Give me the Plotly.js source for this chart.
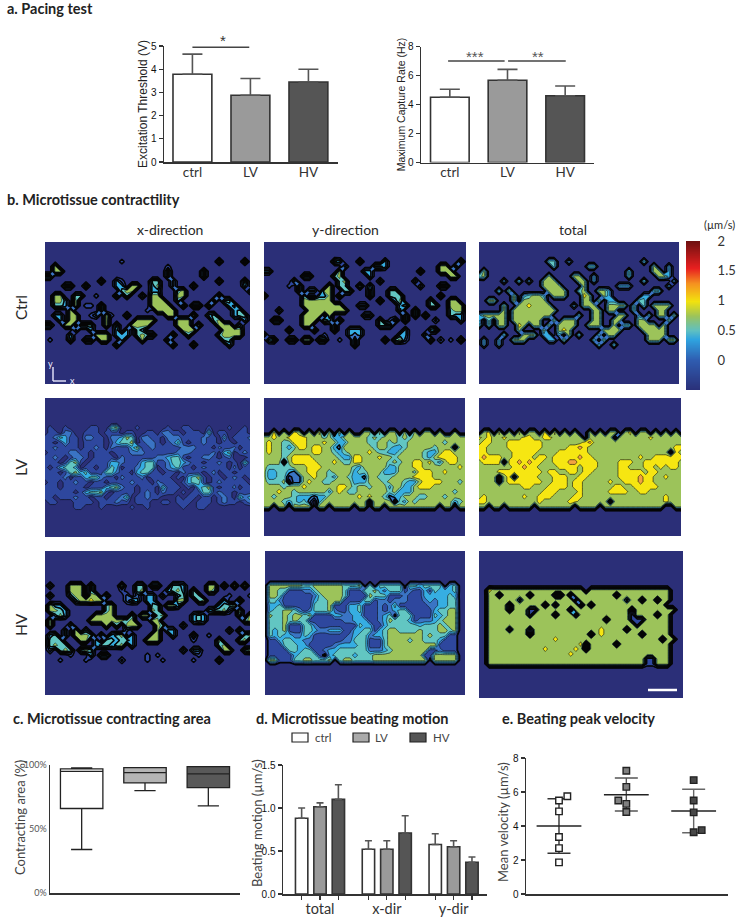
<!DOCTYPE html>
<html><head><meta charset="utf-8">
<script src="https://cdn.plot.ly/plotly-3.0.1.min.js"></script>
<style>html,body{margin:0;padding:0;background:#fff}#c{width:737px;height:917px}</style>
</head><body><div id="c"></div>
<script>
// ---------- bar / box / point data ----------
const groups = ['ctrl','LV','HV'];
const thresholdMean = [3.78,2.88,3.45];
const thresholdTop  = [4.65,3.60,4.00];
const captureMean = [4.50,5.67,4.60];
const captureTop  = [5.05,6.42,5.28];
const areaQ1 = [66,86,82.3], areaMedian = [95,94,93], areaQ3 = [97,98,98.7];
const areaLow = [34,80,68], areaHigh = [97.7,98,98.7];
const motionGroups = ['total','x-dir','y-dir'];
const motionCtrl = [0.88,0.52,0.575], motionCtrlTop = [1.00,0.62,0.70];
const motionLV   = [1.015,0.52,0.55], motionLVTop   = [1.06,0.62,0.62];
const motionHV   = [1.10,0.71,0.37],  motionHVTop   = [1.27,0.91,0.43];
const velocityCtrl = [5.75,5.5,4.86,3.35,2.7,1.86];
const velocityLV   = [7.25,6.3,5.5,5.3,4.82];
const velocityHV   = [6.7,5.5,4.8,3.76,3.63];
const velocityMean = [4.0,5.84,4.88];
const velocitySdTop = [5.6,6.82,6.16];
const velocitySdLow = [2.4,4.88,3.6];
const colourbarValues = [-0.5,-0.25,0,0.15,0.3,0.4,0.5,0.65,0.8,0.95,1.05,1.2,1.35,1.5,1.65,1.8,2];

// ---------- contour maps, one character per grid node ----------
const ctrlX = [
"",
"...............1..................4....4.",
"..5.....................1................",
"..55....................4......4.........",
"44......................4......4.........",
"...........4..31.....44..3........4....4.",
"....44..4.....33.55..35..3...4.........3.",
"...............455...33...45............3",
"..55..44..1...4.4..3.55...55......4......",
"..553.5..............555..4......4.44....",
"..443.5.11.4.........5555..4.44.4...34...",
".....5.....4........1.5555...........34..",
"..33.55..13.51..4.......55...5..34...344.",
"...3.55.....5.....5555....555....45....3.",
"44..55.444..5.4..5555.....555.5...555.3..",
"......3..3....3.3.43.......555.....5555..",
".....3....555.333.4544...4..4.....45555..",
".1...4..44.55..3...5....4..........44....",
"..............4..........4...4......3...."];
const ctrlY = [
"",
"..............43...4....3..............4.",
"................3.....443..........55.4..",
"33.............5....33.........4...555...",
"........44....45.....3...............55..",
"......3........45......3......3..........",
".....1.4.....5.44..5.3.........3...44....",
".......4.33.55..44...4...44..............",
"4.......4..335.4.....4...444.......4.....",
"........555555.........4..35.....4...55..",
"........55555555...33......35....44..555.",
"...3.....55555555..........4..4......455.",
"........5555.5......33......4.4.4....433.",
"..44....555.53.4.......4.14.4.....2....3.",
"........55....4........444...............",
".....4....4...4..333........3....34......",
"3...........1....323.......33...3........",
".34..44.55.44..1..4.....4.452....4.2.1.5.",
"..................4......................"];
const ctrlTotal = [
"",
"..............44..3..............4.......",
"...............4......44...........5..3..",
".5............................4....55.3..",
"45............5....55..3......4.....553..",
".....3..4.3..555....55.3.........4.....3.",
".............5555....5......333.......3..",
"....4.5.......5555..45..553........44....",
".......5.34553.555...65..53......33......",
"..55...5.55555.......55.5.33....44.......",
".....5..5565555....3.555..5555.4.4.5555..",
".....5.555555555.......55.55...4....55...",
"355555.55555555.....4..55...55..3.4.55.5.",
"3.4.55.555555..5.555...55..55...55....5..",
"4.4.55..65.55.5.5555..555..5.44.5555.5...",
"........5....5..565......5555....55555...",
".....4...555.33.3.5.4...4.55......5555...",
".3..3..555....33.5.....4.5........555.55.",
".3..3...................4..4............."];
const lvX = [
"",
"",
".1..1....11..45...1.....1..11...1...1..1.",
".11.22..111.111.11..11.2211.111.4.11..11.",
"1124311.2211.22354.2211.2221111211.3.1112",
"11.1311.1111.13445.1221.1241.11211.11.111",
"1121111.1121.21113511211111222111.2112.11",
".11112211.111.11122211111122211112.34.121",
"1121.1221.1111.2111111223441.11221.12...1",
"111.1451.1111332111344112443211.1121.1.41",
"1.13443.11.1143.112344.123411.121111.2.11",
"111.1453411144211.34411.11.2111.12.11.111",
"11112.11344211.21112.1111.1.3451.11.121.1",
".11.11211.11.11112111.2111.13441.1211111.",
"111.1111.111345211.111.4111.1.3451.112.11",
"111111.134451.1111.121.211.1.11441211.111",
"11.111211.11.1124.11211...1.11.11.121.423",
".11...1111.111211.111..11.111.111.1211.12",
"......11...1.....1..1......1..11........."];
const lvY = [
"..6.5.65.5.6.5.5.5..55.5.55.5.5.55.5..5..",
"55655666655545335555545455545455555555555",
"56554466655565533555544554544555555545555",
"56554346656655325555554554334555554555.55",
"56554455556655434555565443345555433566555",
"55554566665555543366555655455555435666655",
"5555.566666555654466555554545566564356655",
"54444455566655555543555553355566555555565",
"53344325566554555534455533355546665565555",
"53344122556554355433255444555566665555555",
"54445.22565544555533355545554335666655545",
"55554555655555566545545553553356665555555",
"55565545555553565445555554533355555555455",
"55455543332335555556565542335554455545555",
"5555434342.3555555555.5555.43545555555345",
"55.55.5555.55.5555.55.55.5555555555.55.55"];
const lvTotal = [
".56.6.5.6.55.6.6.5.5..5.5.55.56.55.5.5.5.",
"656556555665566555555.55555.5555556555555",
"56655566666665555555567555555555555555555",
"66555566666665555566765555555555555555566",
"66555556666655556666665555555555555555.65",
"67666556666566566666766555555555655666666",
"56666.66767665566677666655556665566666665",
"55555556676655556666566655556655566565665",
"55556666666665665566566555556666656655555",
"5555.56.66665556665566555555666676655655",
"5555.566666665566656655555655666766555555",
"55555555566555666656655555566556666655555",
"55555555555556665555655555666655665555555",
"56555555565566655556655555555555555556555",
"66555555555565555566555555.55555555556555",
"55.55.55555.5555555.5555.555555555555..55"];
const hvX = [
"",
"",
"",
".3...555.4.....5..44.44..443....55.4.5.5.",
".....555.4.....1..45....3453.4..54.......",
".3...355.55.4...2.2.33.3..34.44.....1...1",
"......355655....243.33....55..45...3..5..",
".533........45.......44.553.......3445...",
".5543.......45.......54.........34452.5..",
"..353.....5555...4.55.45.....343......4.5",
".5.......555555545...55......343.......45",
".5...3......5.4.555...54...3.............",
"....3.5.3.......2.....5.33..........3.4..",
".34.3.5554.3.345.3...55..3...4..1......45",
".444...55.3.443443..555......1....5...45.",
".4544.....344345.3................45.....",
".2.454.454.................3.33....55..45",
".....1...3.44.......1.1.......1..........",
"...1....1......2....1..1.....1....4......"];
const hvY = [
".5555555445555554445.4.44444.4434444.34..",
".55441112245555541114453244412113143334..",
".55411111124555541111544411121113333343..",
".44211111134455511114412212221112323344..",
".33411111144451113341112124111111223344..",
".34455421244452113341112123441111134455..",
".5445455451111332233111234.444111143455..",
".44454544111111122333112354443122234555..",
".44451114421111111143311344444434445455..",
".43451114432233311334413455444454445545..",
".43433224311111112344233455555554544411..",
".11344332211111122444111455554554443111..",
".11144433111112333344111455555555551111..",
".11114434411233444444222345555555112111..",
".11111344441.34444344455555555551155555..",
".5511144554445.455444455555555555.55555.."];
const hvTotal = [
"..6555555555555555555.5555555555555555...",
"..55.55555.5555..5.55555555.5555555555...",
"..55555525555555555.555555555255.55.55...",
"..5555.555555.515555.5.55555555555555....",
"..5555.55511555555.55555555555.55555555...",
"..5555555515555.5551555555555515555.55...",
"..55555555555555555555555.555511155555...",
"..555555555555555555555555555551555555...",
"..555515551555555555555565555.55555555...",
"..55555555.55555555555.565555555.55555...",
"..5555555555555655555555555555555555.55...",
"..5555555555555555556.55555.5555555555...",
"..5555555555565555565.5555555555555555...",
"..555555555555555565555555555555555555...",
"..555555555555555555555555555555511555...",
"..555555555555555555555555555555511555..."];

// map from grid characters to velocity levels
const levelOf = {'.':-0.4,'1':-0.12,'2':0.12,'3':0.37,'4':0.62,'5':0.87,'6':1.12,'7':1.37};
const bandColours = ['#2b2f78','#2e479e','#3a74c4','#36aee2','#62c6c2','#9cc35a','#f6e612','#f2a341','#e8352b'];
const barLine = '#333', fills = ['#ffffff','#9a9a9a','#555555'];

const W=737,H=917;
const dom=(l,r,t,b)=>({x:[l/W,r/W],y:[1-b/H,1-t/H]});
const layout={width:W,height:H,margin:{l:0,r:0,t:0,b:0},paper_bgcolor:'#fff',plot_bgcolor:'rgba(0,0,0,0)',
  showlegend:false,barmode:'overlay',shapes:[],annotations:[],font:{family:'Liberation Sans',color:'#222'}};
const data=[];
const tickF={family:'Liberation Sans',size:10,color:'#111'};
const catF={family:'Lato',size:13.5,color:'#333'};

function axes(n,box,xo,yo){
  const d=dom(...box);
  const base={showgrid:false,zeroline:false,fixedrange:true};
  layout['xaxis'+n]=Object.assign({},base,{domain:d.x,anchor:'y'+n},xo);
  layout['yaxis'+n]=Object.assign({},base,{domain:d.y,anchor:'x'+n},yo);
}
function cartesian(n,box,xRange,yRange,yTicks,yTitle,titleStandoff,xTickVals,xTickText,yFont,titleSize,titleFont){
  axes(n,box,{range:xRange,showline:true,linecolor:'#333',linewidth:1.5,ticks:'outside',ticklen:4,tickwidth:1.2,tickcolor:'#333',
      tickmode:'array',tickvals:xTickVals,ticktext:xTickText,tickfont:catF},
    {range:yRange,showline:true,linecolor:'#333',linewidth:1.5,ticks:'outside',ticklen:4,tickwidth:1.2,tickcolor:'#333',
      tickmode:'array',tickvals:yTicks.vals,ticktext:yTicks.text,tickfont:yFont||tickF,
      title:yTitle?{text:yTitle,standoff:titleStandoff,font:titleFont||{family:'Liberation Sans',size:titleSize||11,color:'#222'}}:undefined});
}
function text(x,y,s,size,opt){
  layout.annotations.push(Object.assign({xref:'paper',yref:'paper',x:x/W,y:1-y/H,text:s,showarrow:false,
    font:{family:'Lato',size:size,color:'#2a2a2a'},xanchor:'center',yanchor:'middle'},opt||{}));
}
function line(x0,y0,x1,y1,col,w){
  layout.shapes.push({type:'line',xref:'paper',yref:'paper',x0:x0/W,x1:x1/W,y0:1-y0/H,y1:1-y1/H,line:{color:col,width:w}});
}
function bar(n,x,y,top,fill,width,capW){
  data.push({type:'bar',xaxis:'x'+n,yaxis:'y'+n,x:x,y:y,width:width,marker:{color:fill,line:{color:barLine,width:1.6}},
    error_y:{type:'data',symmetric:false,array:top.map((t,i)=>t-y[i]),arrayminus:y.map(()=>0),color:'#555',thickness:1.6,width:capW},hoverinfo:'skip'});
}

// ---------- a ----------
const idx=[0,1,2];
cartesian(1,[164,338,46,162],[-0.49,2.51],[0,5],{vals:[0,1,2,3,4,5],text:['0','1','2','3','4','5']},'Excitation Threshold (V)',0,idx,groups,null,12);
layout.xaxis1.ticks='';layout.xaxis1.ticklabelstandoff=-3;
idx.forEach(i=>bar(1,[i],[thresholdMean[i]],[thresholdTop[i]],fills[i],0.67,10));
layout.shapes.push({type:'line',xref:'x1',yref:'y1',x0:0,x1:0.98,y0:4.95,y1:4.95,line:{color:'#444',width:1.5}});
layout.annotations.push({xref:'x1',yref:'y1',x:0.52,y:5,yshift:6,text:'*',showarrow:false,font:{family:'Liberation Sans',size:15,color:'#333'}});
cartesian(2,[421,594,46.5,162.5],[-0.5,2.5],[0,8],{vals:[0,2,4,6,8],text:['0','2','4','6','8']},'Maximum Capture Rate (Hz)',0,idx,groups,null,10.5);
layout.xaxis2.ticks='';layout.xaxis2.ticklabelstandoff=-3;
idx.forEach(i=>bar(2,[i],[captureMean[i]],[captureTop[i]],fills[i],0.67,10));
layout.shapes.push({type:'line',xref:'x2',yref:'y2',x0:-0.03,x1:0.95,y0:7,y1:7,line:{color:'#444',width:1.5}});
layout.shapes.push({type:'line',xref:'x2',yref:'y2',x0:1.01,x1:2.01,y0:7,y1:7,line:{color:'#444',width:1.5}});
layout.annotations.push({xref:'x2',yref:'y2',x:0.43,y:7.28,text:'***',showarrow:false,font:{family:'Liberation Sans',size:15,color:'#555'}});
layout.annotations.push({xref:'x2',yref:'y2',x:1.53,y:7.28,text:'**',showarrow:false,font:{family:'Liberation Sans',size:15,color:'#555'}});

// ---------- c ----------
cartesian(3,[50,240,765,893],[-0.5,2.5],[0,100],{vals:[0,50,100],text:['0%','50%','100%']},null,1,[],[],
  {family:'Lato',size:9,color:'#555'});
layout.xaxis3.ticks='';layout.yaxis3.ticks='';
text(20,818,'Contracting area (%)',13,{textangle:-90,font:{family:'Lato',size:13,color:'#444'}});
const boxFills=['#ffffff','#b4b4b4','#595959'];
idx.forEach(i=>data.push({type:'box',xaxis:'x3',yaxis:'y3',x:[i],q1:[areaQ1[i]],median:[areaMedian[i]],q3:[areaQ3[i]],
  lowerfence:[areaLow[i]],upperfence:[areaHigh[i]],width:0.67,whiskerwidth:0.5,boxpoints:false,fillcolor:boxFills[i],
  line:{color:'#222',width:1.3},hoverinfo:'skip'}));

// ---------- d ----------
const off=0.275,motionTicks=[],motionText=[];
[0,1,2].forEach(i=>{motionTicks.push(i-off,i,i+off);motionText.push('',motionGroups[i],'');});
cartesian(4,[283,487,765,894],[-0.554,2.5],[0,1.5],{vals:[0,0.5,1,1.5],text:['0.0','0.5','1.0','1.5']},null,1,motionTicks,motionText);
layout.xaxis4.tickfont={family:'Lato',size:14.5,color:'#333'};layout.xaxis4.ticklabelstandoff=-3;
text(257,823,'Beating motion (µm/s)',13,{textangle:-90,font:{family:'Lato',size:13,color:'#444'}});
const pos=d=>[0,1,2].map(i=>i+d);
bar(4,pos(-off),motionCtrl,motionCtrlTop,fills[0],0.185,3.5);
bar(4,pos(0),motionLV,motionLVTop,fills[1],0.185,3.5);
bar(4,pos(off),motionHV,motionHVTop,fills[2],0.185,3.5);

// ---------- e ----------
cartesian(5,[526,728,758,894],[-0.49,2.51],[0,8],{vals:[0,2,4,6,8],text:['0','2','4','6','8']},null,2,[],[]);
layout.xaxis5.ticks='';
text(503,822,'Mean velocity (µm/s)',13,{textangle:-90,font:{family:'Lato',size:13,color:'#444'}});
const velX=[[0.124,0,0,0,0,0],[0,0,-0.119,0,0],[0,0,0,0.119,0]];
const velY=[velocityCtrl,velocityLV,velocityHV];
const markerFills=['#ffffff','#808080','#484848'];
const sdCols=['#333','#555','#666'];
idx.forEach(i=>{
  data.push({type:'scatter',mode:'markers',xaxis:'x5',yaxis:'y5',x:[i],y:[velocityMean[i]],hoverinfo:'skip',
    marker:{symbol:'line-ew',size:32,line:{color:'#222',width:1.5},color:'#222'},
    error_y:{type:'data',symmetric:false,array:[velocitySdTop[i]-velocityMean[i]],arrayminus:[velocityMean[i]-velocitySdLow[i]],color:sdCols[i],thickness:1.4,width:11.5}});
  data.push({type:'scatter',mode:'markers',xaxis:'x5',yaxis:'y5',x:velX[i].map(d=>i+d),y:velY[i],hoverinfo:'skip',
    marker:{symbol:'square',size:6.5,color:markerFills[i],line:{color:'#222',width:1.4}}});
});

// ---------- b contour maps ----------
// panel: axis number, rows, first row, pixel box, top level of the heavy outline, outline width
const panels=[
 [6,ctrlX,3,[45,250,242,384],0.5,1.5],[7,ctrlY,3,[264,466,242,384],0.5,1.5],[8,ctrlTotal,3,[479,679,242,384],0,1.3],
 [9,lvX,4,[45,250,398,537],null,0],[10,lvY,7,[264,465,398,536],0.25,1.4],[11,lvTotal,7,[479,681,398,536],0.25,1.4],
 [12,hvX,4,[45,250,551,695],0.5,1.5],[13,hvY,7,[265,465,551,695],-0.25,1.8],[14,hvTotal,8,[479,683,551,698],0.5,1.4]];
const scale=bandColours.map((c,i)=>[i/(bandColours.length-1),c]);
panels.forEach(([n,rows,top,box,edgeTop,edgeW])=>{
  const nRows=Math.round((box[3]-box[2])/4.9)+1, z=[];
  for(let r=0;r<nRows;r++){
    const s=rows[r-top]||'', row=[];
    for(let c=0;c<41;c++){const ch=c<s.length?s[c]:(s.length?s[s.length-1]:'.');row.push(levelOf[ch]);}
    z.push(row);
  }
  axes(n,box,{range:[0,40],visible:false},{range:[nRows-1,0],visible:false});
  data.push({type:'contour',xaxis:'x'+n,yaxis:'y'+n,z:z,autocontour:false,showscale:false,hoverinfo:'skip',
    contours:{start:-0.25,end:1.5,size:0.25,coloring:'fill'},colorscale:scale,
    line:{color:'#0a0a0a',width:0.6,smoothing:0}});
  if(edgeTop!==null) data.push({type:'contour',xaxis:'x'+n,yaxis:'y'+n,z:z,autocontour:false,showscale:false,hoverinfo:'skip',
    contours:{start:-0.25,end:edgeTop,size:0.25,coloring:'none'},line:{color:'#050505',width:edgeW,smoothing:0}});
});

// colour bar
axes(15,[686,700,241,390],{range:[0,1],visible:false},{range:[-0.5,2],side:'right',tickmode:'array',tickvals:[0,0.5,1,1.5,2],ticktext:['0','0.5','1','1.5','2'],
  ticks:'outside',ticklen:14,tickcolor:'rgba(0,0,0,0)',showline:false,tickfont:{family:'Lato',size:13,color:'#333'}});
data.push({type:'heatmap',xaxis:'x15',yaxis:'y15',x:[0,1],y:colourbarValues,z:colourbarValues.map(v=>[v,v]),zmin:-0.5,zmax:2,zsmooth:'best',showscale:false,hoverinfo:'skip',
  colorscale:[[0,'#2a2f78'],[0.2,'#2f5cb0'],[0.34,'#2fa4e0'],[0.4,'#60c0c0'],[0.5,'#9cc35a'],[0.6,'#f2e20e'],[0.72,'#f59020'],[0.82,'#e82020'],[1,'#701010']]});

// ---------- text ----------
const hd={xanchor:'left',font:{family:'Lato',size:14.5,color:'#222'}};
text(5,9,'<b>a. Pacing test</b>',14.5,hd);
text(5,200,'<b>b. Microtissue contractility</b>',14.5,hd);
text(11,718,'<b>c. Microtissue contracting area</b>',14.5,hd);
text(254,718,'<b>d. Microtissue beating motion</b>',14.5,hd);
text(500,718,'<b>e. Beating peak velocity</b>',14.5,hd);
text(170,229,'x-direction',14);text(345,229,'y-direction',14);text(573,229,'total',14);
text(21,308,'Ctrl',15.5,{textangle:-90});text(21,467,'LV',15.5,{textangle:-90});text(21,625,'HV',15.5,{textangle:-90});
text(719,225,'(µm/s)',11);
text(50,363,'y',9,{font:{family:'Lato',size:9,color:'#eef'}});
text(72,380,'x',9,{font:{family:'Lato',size:9,color:'#eef'}});
line(53,367,53,381,'#dcdcf4',1.5);line(53,381,66,381,'#dcdcf4',1.5);
line(648,690,677,690,'#ffffff',2.5);

// legend of panel d
[[292,fills[0],'ctrl',313],[353,'#aaaaaa','LV',373],[410,fills[2],'HV',431]].forEach(([x,c,s,tx])=>{
  layout.shapes.push({type:'rect',xref:'paper',yref:'paper',x0:x/W,x1:(x+16)/W,y0:1-742/H,y1:1-733/H,fillcolor:c,line:{color:'#222',width:1.2}});
  text(tx,737,s,11.5,{xanchor:'left',font:{family:'Lato',size:11.5,color:'#444'}});
});

Plotly.newPlot('c',data,layout,{displayModeBar:false,staticPlot:true});
</script></body></html>
